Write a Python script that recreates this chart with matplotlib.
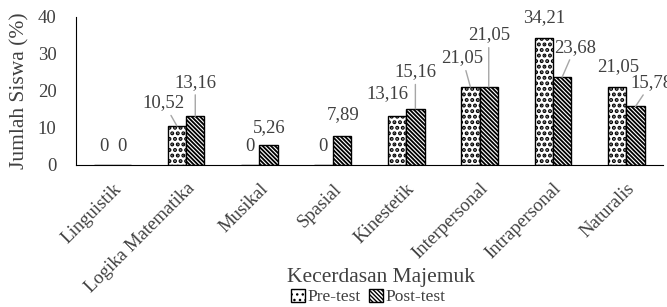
import matplotlib.pyplot as plt
import numpy as np

plt.rcParams['font.family'] = ['Liberation Serif', 'DejaVu Serif']

# data
categories = ['Linguistik', 'Logika Matematika', 'Musikal', 'Spasial',
              'Kinestetik', 'Interpersonal', 'Intrapersonal', 'Naturalis']
pre_test = [0, 10.52, 0, 0, 13.16, 21.05, 34.21, 21.05]
post_test = [0, 13.16, 5.26, 7.89, 15.16, 21.05, 23.68, 15.78]

# label offsets (pixels) and leader lines
pre_off = [(0, 18), (-13, 23), (0, 18), (-1, 18), (-10, 23), (-8, 29), (0, 21), (1, 20)]
post_off = [(0, 18), (0, 34), (1, 18), (1, 21), (0, 37), (0, 52), (13, 30), (16, 24)]
pre_line = [False, True, False, False, False, True, False, False]
post_line = [False, True, False, False, True, True, True, True]

txt = '#404040'
fig = plt.figure(figsize=(6.67, 3.07), dpi=100)
ax = fig.add_axes([0.114, 0.463, 0.88, 0.482])

x = np.arange(len(categories))
w = 0.25
with plt.rc_context({'hatch.linewidth': 2.0}):
    ax.bar(x - w/2, pre_test, w, color='white', edgecolor='black', hatch='...',
           linewidth=1, label='Pre-test')
with plt.rc_context({'hatch.linewidth': 1.3}):
    ax.bar(x + w/2, post_test, w, color='white', edgecolor='black', hatch='\\' * 8,
           linewidth=1, label='Post-test')

def put_labels(xs, vals, offs, lines):
    for xi, v, (dx, dy), ln in zip(xs, vals, offs, lines):
        s = ('%.2f' % v).replace('.', ',') if v else '0'
        ap = dict(arrowstyle='-', color='#a6a6a6', lw=1, shrinkA=1, shrinkB=0) if ln else None
        ax.annotate(s, xy=(xi, v), xytext=(dx, dy), textcoords='offset pixels',
                    ha='center', va='center', fontsize=13.5, color=txt,
                    arrowprops=ap, annotation_clip=False)

put_labels(x - w/2, pre_test, pre_off, pre_line)
put_labels(x + w/2, post_test, post_off, post_line)

ax.set_xlim(-0.5, len(categories) - 0.5)
ax.set_ylim(0, 40)
ax.set_yticks([0, 10, 20, 30, 40])
ax.spines['top'].set_visible(False)
ax.spines['right'].set_visible(False)
ax.tick_params(axis='y', length=0, labelsize=13.5, colors=txt, pad=14)
ax.tick_params(axis='x', length=0, labelsize=13.5, colors=txt, pad=11)
ax.set_xticks(x)
ax.set_xticklabels(categories, rotation=45, ha='right', rotation_mode='anchor')
ax.set_ylabel('Jumlah Siswa (%)', fontsize=15.5, color=txt, labelpad=6)
ax.set_xlabel('Kecerdasan Majemuk', fontsize=15.5, color=txt, va='center')
ax.xaxis.set_label_coords(0.52, -0.764)

fig.legend(loc='center', bbox_to_anchor=(0.552, 0.033), ncol=2, frameon=False,
           fontsize=12.5, handlelength=0.8, handleheight=0.8, handletextpad=0.15,
           columnspacing=0.5, labelcolor=txt, borderpad=0)

fig.savefig('out.png', dpi=100)
